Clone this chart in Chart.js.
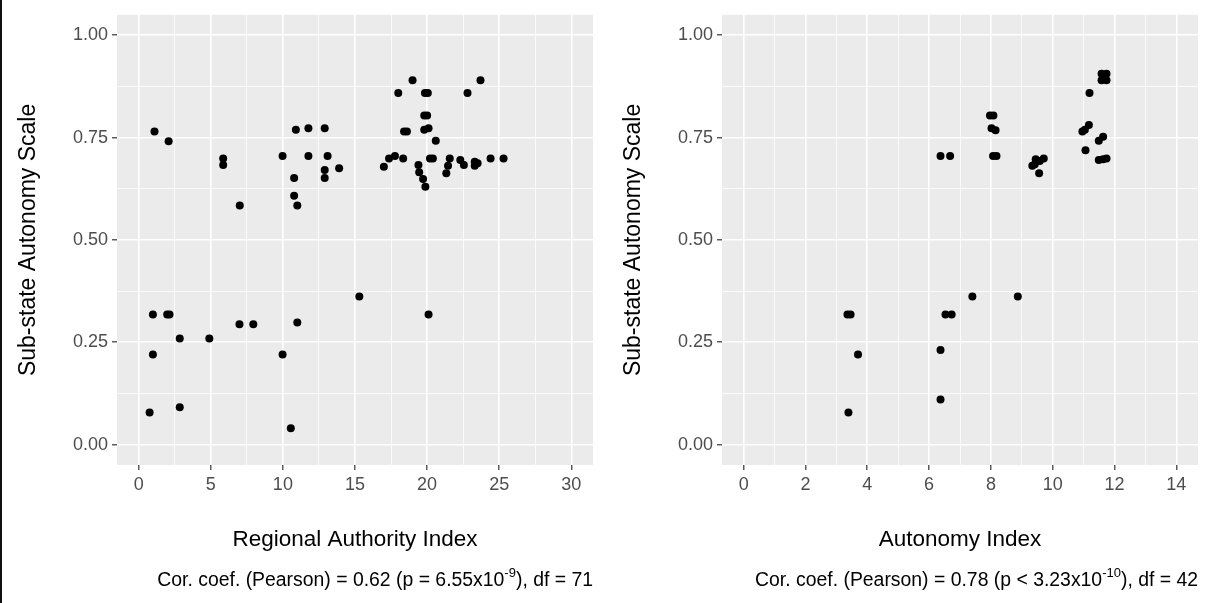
<!DOCTYPE html>
<html>
<head>
<meta charset="utf-8">
<script src="https://cdn.jsdelivr.net/npm/chart.js@4"></script>
<style>
  html, body { margin: 0; padding: 0; background: #fff; }
  body { width: 1210px; height: 603px; position: relative; overflow: hidden; }
  #frame { position: absolute; left: 0; top: 0; width: 2px; height: 603px; background: #111; }
  canvas { position: absolute; top: 0; }
  #left { left: 0; }
  #right { left: 605px; }
</style>
</head>
<body>
<div id="frame"></div>
<canvas id="left" width="605" height="603"></canvas>
<canvas id="right" width="605" height="603"></canvas>
<script>
// Regional Authority Index vs Sub-state Autonomy Scale (left panel)
const raiX = [1.1, 2.08, 5.86, 5.86, 7.01, 9.98, 10.9, 11.77, 12.9, 11.77, 13.1, 12.9, 12.9, 13.9, 10.78, 10.78, 11.0,
  18.99, 18.0, 19.85, 20.05, 22.8, 23.7, 19.8, 20.0, 18.4, 18.6, 19.8, 20.1, 20.6, 17.0, 17.36, 17.77, 18.34,
  19.4, 19.45, 19.72, 19.88, 20.2, 20.4, 21.57, 21.45, 21.33, 22.3, 22.55, 23.3, 23.5, 23.3, 24.4, 25.3, 15.3,
  0.99, 1.98, 2.14, 2.85, 4.9, 0.99, 0.76, 2.85, 6.99, 7.95, 9.98, 11.0, 10.55, 20.1];
const raiY = [0.765, 0.741, 0.699, 0.683, 0.584, 0.705, 0.769, 0.773, 0.773, 0.705, 0.705, 0.671, 0.651, 0.675, 0.651, 0.608, 0.584,
  0.890, 0.859, 0.859, 0.859, 0.859, 0.890, 0.804, 0.804, 0.765, 0.765, 0.769, 0.773, 0.742, 0.679, 0.699, 0.705, 0.699,
  0.683, 0.665, 0.649, 0.630, 0.699, 0.699, 0.699, 0.681, 0.663, 0.695, 0.683, 0.691, 0.687, 0.681, 0.699, 0.699, 0.362,
  0.318, 0.318, 0.318, 0.259, 0.259, 0.220, 0.078, 0.091, 0.294, 0.294, 0.220, 0.298, 0.040, 0.318];

// Autonomy Index vs Sub-state Autonomy Scale (right panel)
const aiX = [11.58, 11.74, 11.58, 11.74, 11.19, 7.97, 8.08, 8.02, 8.15, 8.07, 8.18, 6.37, 6.68,
  9.34, 9.45, 9.58, 9.71, 9.56, 9.42, 10.96, 11.04, 11.17, 11.06, 11.49, 11.63, 11.49, 11.63, 11.74,
  7.40, 8.87, 3.36, 3.46, 3.70, 3.39, 6.53, 6.73, 6.37, 6.37];
const aiY = [0.906, 0.906, 0.890, 0.890, 0.859, 0.804, 0.804, 0.773, 0.768, 0.705, 0.705, 0.705, 0.705,
  0.681, 0.697, 0.693, 0.699, 0.663, 0.685, 0.765, 0.769, 0.781, 0.719, 0.742, 0.752, 0.695, 0.697, 0.699,
  0.362, 0.362, 0.318, 0.318, 0.220, 0.078, 0.318, 0.318, 0.231, 0.110];

const yTickVals = [0, 0.125, 0.25, 0.375, 0.5, 0.625, 0.75, 0.875, 1];
const raiTickVals = [0, 2.5, 5, 7.5, 10, 12.5, 15, 17.5, 20, 22.5, 25, 27.5, 30];
const aiTickVals = [0, 1, 2, 3, 4, 5, 6, 7, 8, 9, 10, 11, 12, 13, 14];

const FONT = '"Liberation Sans", Arial, sans-serif';

function isMajorY(v) { return Math.abs(v * 4 - Math.round(v * 4)) < 1e-6; }

function makePanel(id, xs, ys, xTicks, xMin, xMax, xStep, xTitle, capPre, capSup, capPost) {
  const isMajorX = v => Math.abs(v / xStep - Math.round(v / xStep)) < 1e-6;
  const pts = xs.map((x, i) => ({ x: x, y: ys[i] }));

  const panelDeco = {
    id: 'panelDeco',
    beforeDraw(chart) {
      const a = chart.chartArea, c = chart.ctx;
      c.save();
      c.fillStyle = '#EBEBEB';
      c.fillRect(a.left, a.top, a.right - a.left, a.bottom - a.top);
      c.restore();
    },
    afterDraw(chart) {
      const a = chart.chartArea, c = chart.ctx;
      c.save();
      c.fillStyle = '#000';
      // x title
      c.font = '22.5px ' + FONT;
      c.textAlign = 'center';
      c.textBaseline = 'alphabetic';
      c.fillText(xTitle, (a.left + a.right) / 2, 546);
      // y title
      c.font = '23px ' + FONT;
      c.translate(35, (a.top + a.bottom) / 2);
      c.rotate(-Math.PI / 2);
      c.fillText('Sub-state Autonomy Scale', 0, 0);
      c.setTransform(1, 0, 0, 1, 0, 0);
      // caption with superscript, right aligned to panel
      const big = '19.4px ' + FONT, small = '13px ' + FONT;
      c.textAlign = 'left';
      c.font = big;
      const w1 = c.measureText(capPre).width, w3 = c.measureText(capPost).width;
      c.font = small;
      const w2 = c.measureText(capSup).width;
      let x = a.right - (w1 + w2 + w3);
      const base = 586;
      c.font = big; c.fillText(capPre, x, base); x += w1;
      c.font = small; c.fillText(capSup, x, base - 9); x += w2;
      c.font = big; c.fillText(capPost, x, base);
      c.restore();
    }
  };

  return new Chart(document.getElementById(id), {
    type: 'scatter',
    data: {
      datasets: [{
        data: pts,
        backgroundColor: '#000',
        borderWidth: 0,
        pointRadius: 4,
        pointHoverRadius: 4
      }]
    },
    options: {
      responsive: false,
      animation: false,
      events: [],
      layout: { padding: { top: 11, right: 12, left: 0, bottom: 0 } },
      plugins: { legend: { display: false }, tooltip: { enabled: false } },
      scales: {
        x: {
          type: 'linear',
          min: xMin,
          max: xMax,
          afterBuildTicks: s => { s.ticks = xTicks.map(v => ({ value: v })); },
          afterFit: s => { s.height = 138; },
          border: { display: false },
          grid: {
            color: '#FFFFFF',
            lineWidth: ctx => isMajorX(ctx.tick.value) ? 1.6 : 0.8,
            tickColor: ctx => isMajorX(ctx.tick.value) ? '#333333' : 'rgba(0,0,0,0)',
            tickLength: 5,
            tickWidth: 1.2
          },
          ticks: {
            autoSkip: false,
            maxRotation: 0,
            padding: 4,
            color: '#4D4D4D',
            font: { family: FONT, size: 18 },
            callback: v => isMajorX(v) ? String(v) : ''
          }
        },
        y: {
          type: 'linear',
          min: -0.05,
          max: 1.05,
          afterBuildTicks: s => { s.ticks = yTickVals.map(v => ({ value: v })); },
          afterFit: s => { s.width = 117; },
          border: { display: false },
          grid: {
            color: '#FFFFFF',
            lineWidth: ctx => isMajorY(ctx.tick.value) ? 1.6 : 0.8,
            tickColor: ctx => isMajorY(ctx.tick.value) ? '#333333' : 'rgba(0,0,0,0)',
            tickLength: 5,
            tickWidth: 1.2
          },
          ticks: {
            autoSkip: false,
            padding: 4,
            color: '#4D4D4D',
            font: { family: FONT, size: 18 },
            callback: v => isMajorY(v) ? v.toFixed(2) : ''
          }
        }
      }
    },
    plugins: [panelDeco]
  });
}

makePanel('left', raiX, raiY, raiTickVals, -1.5, 31.5, 5, 'Regional Authority Index',
  'Cor. coef. (Pearson) = 0.62 (p = 6.55x10', '-9', '), df = 71');
makePanel('right', aiX, aiY, aiTickVals, -0.7, 14.7, 2, 'Autonomy Index',
  'Cor. coef. (Pearson) = 0.78 (p < 3.23x10', '-10', '), df = 42');
</script>
</body>
</html>
